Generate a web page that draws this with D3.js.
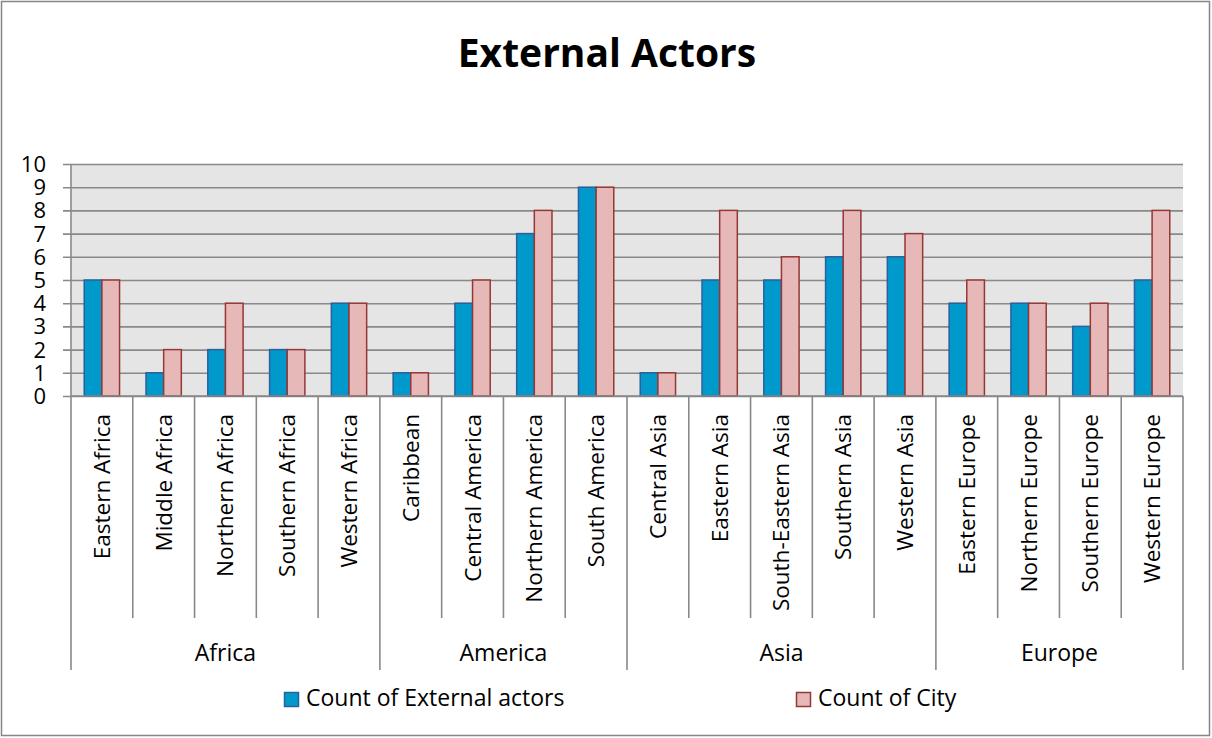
<!DOCTYPE html>
<html>
<head>
<meta charset="utf-8">
<script src="https://cdn.jsdelivr.net/npm/d3@7"></script>
<style>
  body { margin: 0; background: #fff; }
  svg text { font-family: "Open Sans", Lato, sans-serif; fill: #000; }
</style>
</head>
<body>
<svg id="chart" width="1212" height="738"></svg>
<script>
// categories, grouped by region
var regions = ["Africa", "America", "Asia", "Europe"];
var subRegions = [
  "Eastern Africa", "Middle Africa", "Northern Africa", "Southern Africa", "Western Africa",
  "Caribbean", "Central America", "Northern America", "South America",
  "Central Asia", "Eastern Asia", "South-Eastern Asia", "Southern Asia", "Western Asia",
  "Eastern Europe", "Northern Europe", "Southern Europe", "Western Europe"
];
var regionOf = [
  "Africa", "Africa", "Africa", "Africa", "Africa",
  "America", "America", "America", "America",
  "Asia", "Asia", "Asia", "Asia", "Asia",
  "Europe", "Europe", "Europe", "Europe"
];
var externalActors = [5, 1, 2, 2, 4, 1, 4, 7, 9, 1, 5, 5, 6, 6, 4, 4, 3, 5];
var cityCount      = [5, 2, 4, 2, 4, 1, 5, 8, 9, 1, 8, 6, 8, 7, 5, 4, 4, 8];
var seriesNames = ["Count of External actors", "Count of City"];
var yTicks = [0, 1, 2, 3, 4, 5, 6, 7, 8, 9, 10];

var svg = d3.select("#chart");

// outer border
svg.append("rect")
  .attr("x", 1.5).attr("y", 1.5)
  .attr("width", 1208).attr("height", 734)
  .attr("fill", "#fff")
  .attr("stroke", "#868686")
  .attr("stroke-width", 1.5);

// title
svg.append("text")
  .attr("x", 607).attr("y", 67)
  .attr("text-anchor", "middle")
  .style("font-size", "39px")
  .style("font-weight", "bold")
  .text("External Actors");

var plotLeft = 71, plotRight = 1183, plotTop = 164, plotBottom = 396;

var x0 = d3.scaleBand().domain(subRegions).range([plotLeft, plotRight]);
var x1 = d3.scaleBand().domain(seriesNames).range([0, x0.bandwidth()]).paddingOuter(0.75);
var y = d3.scaleLinear().domain([0, 10]).range([plotBottom, plotTop]);

// plot background
svg.append("rect")
  .attr("x", plotLeft).attr("y", plotTop)
  .attr("width", plotRight - plotLeft).attr("height", plotBottom - plotTop)
  .attr("fill", "#e5e5e5");

// gridlines + y axis
var yAxis = d3.axisLeft(y).tickValues(yTicks).tickSize(-(plotRight - plotLeft + 8)).tickPadding(5);
var gy = svg.append("g").attr("transform", "translate(" + (plotLeft - 8) + ",0)").call(yAxis);
gy.select(".domain").remove();
gy.selectAll(".tick line").attr("stroke", "#898989").attr("stroke-width", 1.6);
gy.selectAll(".tick text").style("font-size", "22px").attr("dy", "0.34em").attr("x", -17);

// vertical axis line
svg.append("line")
  .attr("x1", plotLeft).attr("x2", plotLeft)
  .attr("y1", plotTop).attr("y2", plotBottom)
  .attr("stroke", "#898989").attr("stroke-width", 1.6);

// bars
var colors = { fill: ["#0099cc", "#e6b9b8"], stroke: ["#2c5f9b", "#953735"] };
var seriesData = [externalActors, cityCount];

seriesData.forEach(function(vals, s) {
  svg.append("g").selectAll("rect")
    .data(vals)
    .enter()
    .append("rect")
    .attr("x", function(d, i) { return x0(subRegions[i]) + x1(seriesNames[s]); })
    .attr("y", function(d) { return y(d); })
    .attr("width", x1.bandwidth())
    .attr("height", function(d) { return y(0) - y(d); })
    .attr("fill", colors.fill[s])
    .attr("stroke", colors.stroke[s])
    .attr("stroke-width", 1.5);
});

// x axis line
svg.append("line")
  .attr("x1", plotLeft).attr("x2", plotRight)
  .attr("y1", plotBottom).attr("y2", plotBottom)
  .attr("stroke", "#898989").attr("stroke-width", 1.6);

// category separators
var subTickBottom = 618, groupTickBottom = 670;
var bounds = subRegions.map(function(d) { return x0(d); }).concat([plotRight]);
svg.append("g").selectAll("line")
  .data(bounds)
  .enter()
  .append("line")
  .attr("x1", function(d) { return d; })
  .attr("x2", function(d) { return d; })
  .attr("y1", plotBottom)
  .attr("y2", function(d, i) {
    if (i == 0 || i == bounds.length - 1) return groupTickBottom;
    return regionOf[i] != regionOf[i - 1] ? groupTickBottom : subTickBottom;
  })
  .attr("stroke", "#898989")
  .attr("stroke-width", 1.6);

// rotated category labels
svg.append("g").selectAll("text")
  .data(subRegions)
  .enter()
  .append("text")
  .attr("transform", function(d) {
    return "translate(" + (x0(d) + x0.bandwidth() / 2 + 8) + "," + 414 + ") rotate(-90)";
  })
  .attr("text-anchor", "end")
  .style("font-size", "22.5px")
  .text(function(d) { return d; });

// region labels
svg.append("g").selectAll("text")
  .data(regions)
  .enter()
  .append("text")
  .attr("x", function(r) {
    var idx = [];
    regionOf.forEach(function(g, i) { if (g == r) idx.push(i); });
    var a = x0(subRegions[idx[0]]);
    var b = x0(subRegions[idx[idx.length - 1]]) + x0.bandwidth();
    return (a + b) / 2;
  })
  .attr("y", 661)
  .attr("text-anchor", "middle")
  .style("font-size", "23px")
  .text(function(d) { return d; });

// legend
var legendPos = [284, 796];
seriesNames.forEach(function(name, s) {
  var g = svg.append("g").attr("transform", "translate(" + legendPos[s] + ",692)");
  g.append("rect")
    .attr("x", 0.5).attr("y", 0.5)
    .attr("width", 14).attr("height", 14)
    .attr("fill", colors.fill[s])
    .attr("stroke", colors.stroke[s])
    .attr("stroke-width", 1.5);
  g.append("text")
    .attr("x", 22).attr("y", 14)
    .style("font-size", "23px")
    .text(name);
});
</script>
</body>
</html>
